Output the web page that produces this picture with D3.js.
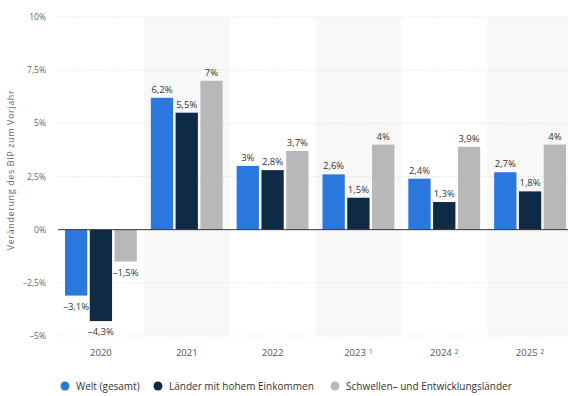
<!DOCTYPE html>
<html><head><meta charset="utf-8">
<script src="https://cdn.jsdelivr.net/npm/d3@7"></script>
<style>
body{margin:0;background:#fff;overflow:hidden;}
svg{display:block;font-family:"Open Sans","Noto Sans",sans-serif;}
</style></head>
<body><svg id="c" width="568" height="396"></svg>
<script>
const years = ["2020","2021","2022","2023","2024","2025"];
const yearNotes = ["","","","1","2","2"];
const seriesNames = ["Welt (gesamt)","Länder mit hohem Einkommen","Schwellen– und Entwicklungsländer"];
const welt = [-3.1, 6.2, 3.0, 2.6, 2.4, 2.7];
const hoch = [-4.3, 5.5, 2.8, 1.5, 1.3, 1.8];
const schwellen = [-1.5, 7.0, 3.7, 4.0, 3.9, 4.0];
const yTicks = [-5, -2.5, 0, 2.5, 5, 7.5, 10];
const colors = ["#2a78de", "#0f2a45", "#b8b8b8"];

const series = [welt, hoch, schwellen];
const svg = d3.select("#c");
const plotLeft = 58, plotRight = 573, plotTop = 17, plotBottom = 336;

const x = d3.scaleBand().domain(years).range([plotLeft, plotRight]).paddingInner(0).paddingOuter(0);
const xs = d3.scaleBand().domain([0,1,2]).range([7, x.bandwidth()-7]).paddingInner(0.1);
const y = d3.scaleLinear().domain([-5, 10]).range([plotBottom, plotTop]);
const fmt = v => String(v).replace(".", ",").replace("-", "–") + "%";

// alternating background bands
svg.selectAll("rect.band").data(years.filter((d,i)=>i%2===1)).join("rect")
  .attr("x", d=>x(d)).attr("y", plotTop).attr("width", x.bandwidth()).attr("height", plotBottom-plotTop)
  .attr("fill", "#f8f8f8");

// gridlines
svg.selectAll("line.grid").data(yTicks.filter(t=>t!==0)).join("line")
  .attr("x1", plotLeft).attr("x2", plotRight).attr("y1", d=>y(d)).attr("y2", d=>y(d))
  .attr("stroke", "#d6d6d6").attr("stroke-dasharray", "1,1.5").attr("stroke-width", 0.8);

// y tick labels
svg.selectAll("text.yt").data(yTicks).join("text")
  .attr("x", 46).attr("y", d=>y(d)+3).attr("text-anchor","end")
  .attr("font-size", 8.5).attr("fill", "#666").text(d=>fmt(d));

// y axis title
svg.append("text").attr("transform", "translate(14,170) rotate(-90)")
  .attr("text-anchor","middle").attr("font-size", 9).attr("letter-spacing", 0.6).attr("fill","#666")
  .text("Veränderung des BIP zum Vorjahr");

// bars
series.forEach((vals, si) => {
  svg.selectAll("rect.s"+si).data(vals).join("rect")
    .attr("x", (d,i)=>x(years[i])+xs(si)).attr("width", xs.bandwidth())
    .attr("y", d=>y(Math.max(0,d))).attr("height", d=>Math.abs(y(d)-y(0)))
    .attr("fill", colors[si]);
  svg.selectAll("text.l"+si).data(vals).join("text")
    .attr("x", (d,i)=>x(years[i])+xs(si)+xs.bandwidth()/2)
    .attr("y", d=> d>=0 ? y(d)-5 : y(d)+14)
    .attr("text-anchor","middle").attr("font-size", 9.5).attr("fill","#333")
    .text(d=>fmt(d));
});

// zero line
svg.append("line").attr("x1", plotLeft).attr("x2", plotRight).attr("y1", y(0)).attr("y2", y(0))
  .attr("stroke", "#333").attr("stroke-width", 1);

// x labels
const xl = svg.selectAll("text.xl").data(years).join("text")
  .attr("x", d=>x(d)+x.bandwidth()/2).attr("y", 356)
  .attr("text-anchor","middle").attr("font-size", 9.5).attr("fill","#555");
xl.append("tspan").text(d=>d);
xl.append("tspan").attr("font-size", 6.5).attr("dx", 3).attr("dy", -2).text((d,i)=>yearNotes[i]);

// legend
const lx = [65, 158, 335];
seriesNames.forEach((n, i) => {
  svg.append("circle").attr("cx", lx[i]).attr("cy", 386).attr("r", 4.5).attr("fill", colors[i]);
  svg.append("text").attr("x", lx[i]+11).attr("y", 390).attr("font-size", 10).attr("fill","#333").text(n);
});
</script></body></html>
